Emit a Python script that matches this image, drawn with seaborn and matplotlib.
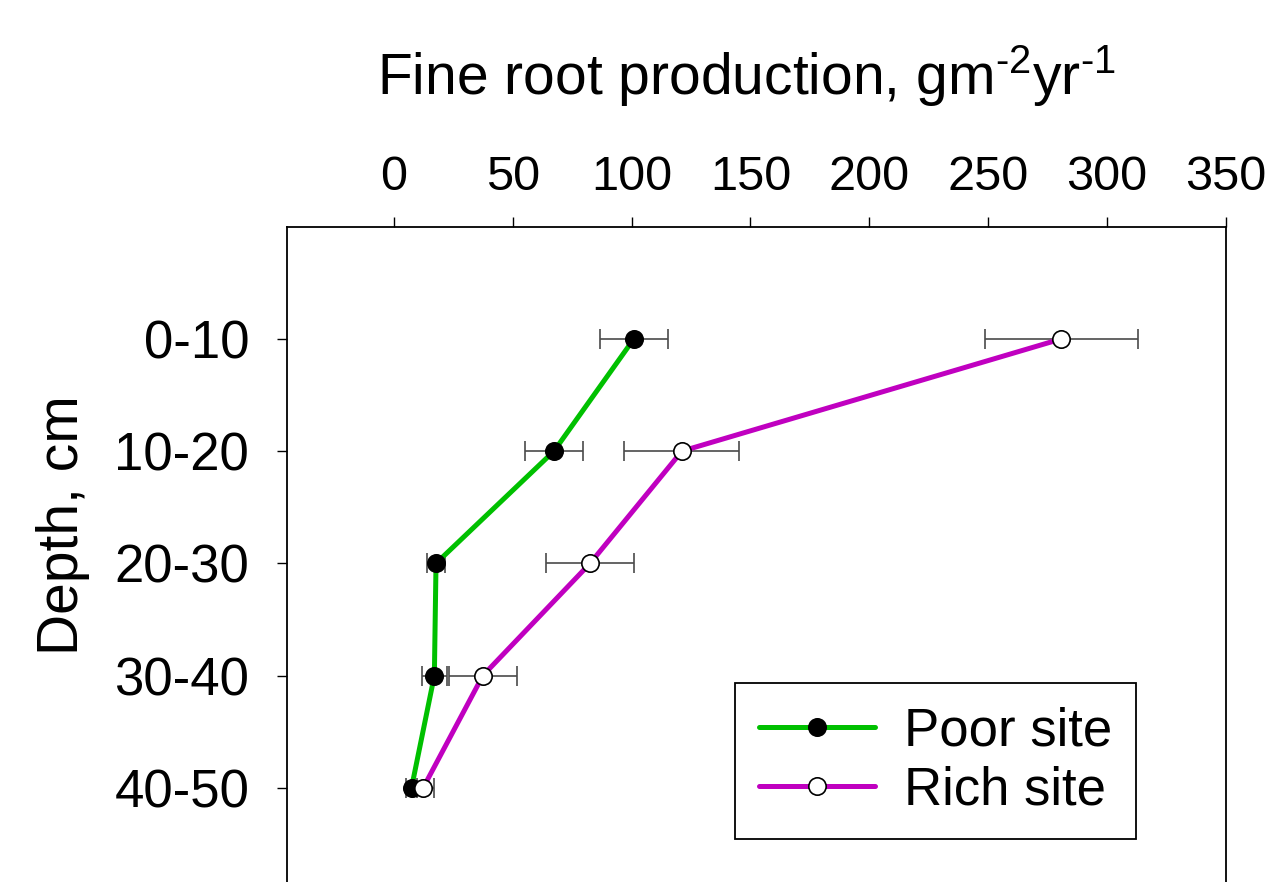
import numpy as np
import pandas as pd
import matplotlib
matplotlib.use("Agg")
import matplotlib.pyplot as plt
import seaborn as sns

depths = ["0-10", "10-20", "20-30", "30-40", "40-50"]
poor_vals = [101.0, 67.4, 17.8, 17.1, 7.5]
poor_err = [14.4, 12.0, 3.6, 5.2, 2.5]
rich_vals = [280.8, 121.2, 82.6, 37.5, 12.4]
rich_err = [32.0, 24.2, 18.4, 14.4, 4.6]
xticks = [0, 50, 100, 150, 200, 250, 300, 350]

sns.set_theme(style="ticks")
plt.rcParams["font.family"] = ["Liberation Sans", "DejaVu Sans"]
plt.rcParams["mathtext.default"] = "regular"
for k in ["text.color", "axes.labelcolor", "xtick.color", "ytick.color"]:
    plt.rcParams[k] = "black"

fig = plt.figure(figsize=(12.73, 8.82), dpi=100)
ax = fig.add_axes([0.2252, -0.0204, 0.7379, 0.7634])

df_poor = pd.DataFrame({"depth": depths, "value": poor_vals})
df_rich = pd.DataFrame({"depth": depths, "value": rich_vals})

ax.errorbar(poor_vals, depths, xerr=poor_err, fmt="none", ecolor="#4a4a4a",
            elinewidth=1.2, capsize=7, capthick=1.2, zorder=2)
ax.errorbar(rich_vals, depths, xerr=rich_err, fmt="none", ecolor="#4a4a4a",
            elinewidth=1.2, capsize=7, capthick=1.2, zorder=2)

sns.lineplot(data=df_poor, x="value", y="depth", orient="y", sort=False,
             errorbar=None, color="#00c000", lw=3.6, marker="o", ms=12.5,
             markerfacecolor="black", markeredgecolor="black", mew=1.2,
             label="Poor site", ax=ax, zorder=3)
sns.lineplot(data=df_rich, x="value", y="depth", orient="y", sort=False,
             errorbar=None, color="#c000c0", lw=3.6, marker="o", ms=12.5,
             markerfacecolor="white", markeredgecolor="black", mew=1.2,
             label="Rich site", ax=ax, zorder=3)

ax.set_xlim(-45, 350)
ax.set_ylim(5.0, -1.0)
ax.xaxis.tick_top()
ax.xaxis.set_label_position("top")
ax.set_xticks(xticks)
ax.set_xticklabels([str(t) for t in xticks])
ax.tick_params(axis="x", which="both", direction="out", length=7, width=1.0,
               labelsize=35, pad=12, bottom=False, top=True, colors="black")
ax.tick_params(axis="y", direction="out", length=7, width=1.0,
               labelsize=38, pad=20, colors="black")
for s in ax.spines.values():
    s.set_visible(True)
    s.set_linewidth(1.3)
    s.set_color("black")

ax.set_xlabel("Fine root production, gm$^{\u20102}$yr$^{\u20101}$", fontsize=41)
ax.xaxis.set_label_coords(0.489, 1.195)
ax.set_ylabel("Depth, cm", fontsize=41)
ax.yaxis.set_label_coords(-0.209, 0.557)

leg = ax.legend(loc="upper left", bbox_to_anchor=(0.4773, 0.3223), fontsize=38,
                frameon=True, fancybox=False, edgecolor="black", framealpha=1,
                handlelength=2.2, handletextpad=0.55, borderpad=0.45,
                labelspacing=0.16, borderaxespad=0)
leg.get_frame().set_linewidth(1.3)

fig.savefig("out.png", dpi=100)
